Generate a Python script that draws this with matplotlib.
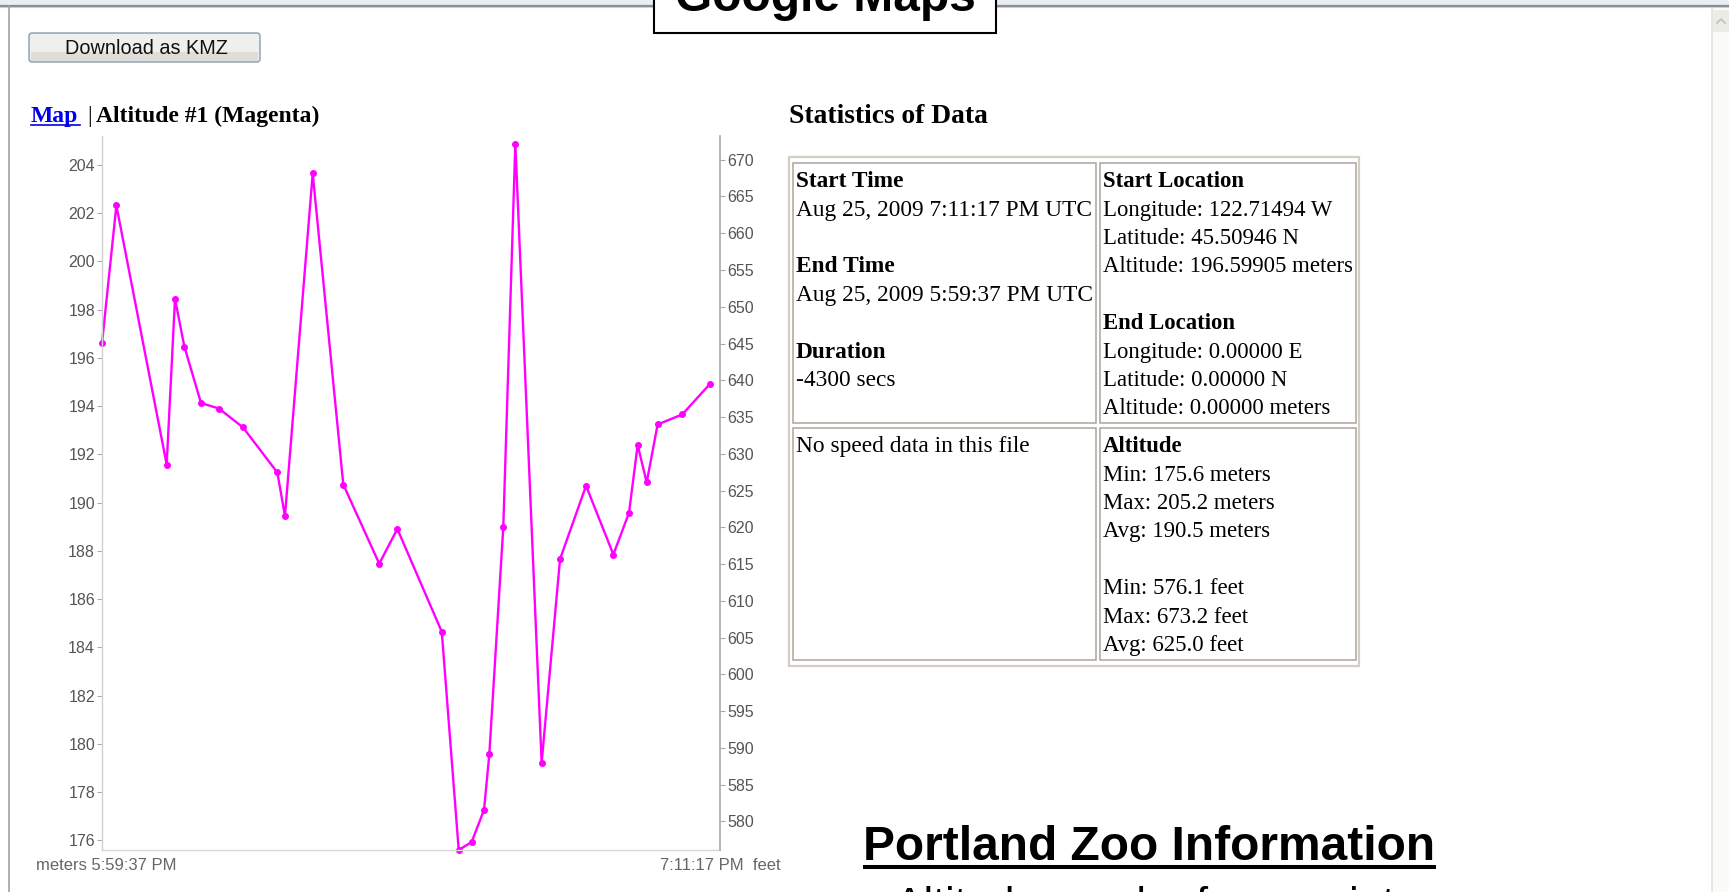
import numpy as np
import matplotlib
matplotlib.use('Agg')
import matplotlib.pyplot as plt
from matplotlib.patches import Rectangle, FancyBboxPatch

W, H = 1729, 892

# altitude track, seconds after 5:59:37 PM
times_sec = [0, 100, 450, 508, 573, 689, 814, 981, 1220, 1273, 1466, 1679, 1929, 2055,
             2364, 2482, 2572, 2658, 2695, 2792, 2876, 3059, 3187, 3368, 3558, 3667,
             3727, 3790, 3866, 4038, 4230]
alt_m = [196.60, 202.32, 191.58, 198.45, 196.47, 194.13, 193.90, 193.12, 191.25, 189.45,
         203.65, 190.75, 187.47, 188.91, 184.65, 175.60, 175.93, 177.26, 179.57, 188.97,
         204.87, 179.22, 187.66, 190.70, 187.85, 189.58, 192.39, 190.84, 193.24, 193.66,
         194.92]
duration_sec = 4300
alt_min, alt_max = 175.6, 205.2
m_to_ft = 3.28084

meter_ticks = list(range(176, 205, 2))
feet_ticks = list(range(580, 671, 5))

# statistics table text (label, bold?)
cell_time = [("Start Time", True), ("Aug 25, 2009 7:11:17 PM UTC", False), ("", False),
             ("End Time", True), ("Aug 25, 2009 5:59:37 PM UTC", False), ("", False),
             ("Duration", True), ("-4300 secs", False)]
cell_loc = [("Start Location", True), ("Longitude: 122.71494 W", False),
            ("Latitude: 45.50946 N", False), ("Altitude: 196.59905 meters", False),
            ("", False), ("End Location", True), ("Longitude: 0.00000 E", False),
            ("Latitude: 0.00000 N", False), ("Altitude: 0.00000 meters", False)]
cell_speed = [("No speed data in this file", False)]
cell_alt = [("Altitude", True), ("Min: 175.6 meters", False), ("Max: 205.2 meters", False),
            ("Avg: 190.5 meters", False), ("", False), ("Min: 576.1 feet", False),
            ("Max: 673.2 feet", False), ("Avg: 625.0 feet", False)]

fig = plt.figure(figsize=(W / 100, H / 100), dpi=100)
fig.patch.set_facecolor('white')

# page layer in pixel coordinates
pg = fig.add_axes([0, 0, 1, 1], zorder=0)
pg.set_xlim(0, W)
pg.set_ylim(H, 0)
pg.axis('off')

serif = 'Liberation Serif'
sans = 'Liberation Sans'

# browser frame
pg.add_patch(Rectangle((0, 0), W, 4.5, color='#e9edf5', lw=0))
pg.plot([0, W], [5.5, 5.5], color='#8c8c8c', lw=1.6)
pg.plot([0, W], [7.2, 7.2], color='#cfcfcf', lw=0.8)
pg.plot([9, 9], [6, H], color='#a6a29a', lw=1.2)
pg.add_patch(Rectangle((1712, 8), W - 1712, H, facecolor='#fbfbf8', edgecolor='none'))
pg.plot([1712, 1712], [8, H], color='#e4e4de', lw=1.2)
pg.add_patch(Rectangle((1713, 10), 16, 22, facecolor='#ecece7', edgecolor='none'))
pg.plot([1717, 1721, 1725], [23, 19, 23], color='#c0c0bc', lw=1.2)

# Google Maps tab
pg.add_patch(Rectangle((654, -10), 342, 43, facecolor='white', edgecolor='black', lw=1.5, zorder=3))
pg.text(825, 11, 'Google Maps', fontsize=34.5, fontweight='bold', family=sans,
        ha='center', va='baseline', zorder=4)

# button
pg.add_patch(FancyBboxPatch((29, 33), 231, 29, boxstyle='round,pad=0,rounding_size=3',
                            facecolor='#efefec', edgecolor='#8a9ab0', lw=1.0))
pg.add_patch(Rectangle((31, 52), 227, 9, facecolor='#dfddd7', edgecolor='none'))
pg.text(146, 53.5, 'Download as KMZ', fontsize=14.3, family=sans, ha='center', va='baseline',
        color='#111111')

# chart header
pg.text(31, 121.7, 'Map', fontsize=17, fontweight='bold', family=serif, color='#0000ee',
        va='baseline')
pg.plot([31, 80], [124.5, 124.5], color='#0000ee', lw=1.2)
pg.text(87, 121.7, '|', fontsize=17, family=serif, va='baseline')
pg.text(96, 121.7, 'Altitude #1 (Magenta)', fontsize=17, fontweight='bold', family=serif,
        va='baseline')

# statistics table
pg.text(789.5, 122.7, 'Statistics of Data', fontsize=19.8, fontweight='bold', family=serif,
        va='baseline')
pg.add_patch(Rectangle((789.5, 157), 570, 509, facecolor='none', edgecolor='#d2cec4', lw=1.6))
cells = [(793.5, 162.7, 1096, 423.3), (1100, 162.7, 1356, 423.3),
         (793.5, 428, 1096, 660), (1100, 428, 1356, 660)]
for x0, y0, x1, y1 in cells:
    pg.add_patch(Rectangle((x0, y0), x1 - x0, y1 - y0, facecolor='none',
                           edgecolor='#aaa69c', lw=1.1))

line_h = 28.4
for lines, x, y, fs in [(cell_time, 796, 187.3, 16.8), (cell_loc, 1103, 187.3, 16.4),
                        (cell_speed, 796, 452.3, 16.8), (cell_alt, 1103, 452.3, 16.4)]:
    for i, (txt, bold) in enumerate(lines):
        pg.text(x, y + i * line_h, txt, fontsize=fs, family=serif,
                fontweight='bold' if bold else 'normal', va='baseline')

# zoo heading
pg.text(863, 860, 'Portland Zoo Information', fontsize=34.5, fontweight='bold', family=sans,
        va='baseline')
pg.plot([863, 1436], [867, 867], color='black', lw=2.9, solid_capstyle='butt')
pg.text(895, 917, 'Altitude graph of zoo points', fontsize=31, family=sans, va='baseline')

# altitude chart
ax = fig.add_axes([102 / W, (H - 850) / H, 618 / W, 714 / H], zorder=2)
ax.set_facecolor('none')
ax.plot(times_sec, alt_m, color='#ff00ff', lw=1.7, marker='o', markersize=4, clip_on=False)
ax.set_xlim(0, duration_sec)
ax.set_ylim(alt_min, alt_max)
ax.set_xticks([])
ax.set_yticks(meter_ticks)
ax.tick_params(axis='y', direction='out', length=3.5, width=0.8, color='#aaaaaa',
               labelsize=11.5, labelcolor='#555555', pad=1.5)
for lab in ax.get_yticklabels():
    lab.set_family(sans)
for s in ['top', 'right']:
    ax.spines[s].set_visible(False)
ax.spines['left'].set_color('#d0d0d0')
ax.spines['bottom'].set_color('#d8d8d8')
ax.spines['left'].set_linewidth(1.0)
ax.spines['bottom'].set_linewidth(1.0)

ax2 = ax.twinx()
ax2.set_ylim(alt_min * m_to_ft, alt_max * m_to_ft)
ax2.set_yticks(feet_ticks)
ax2.tick_params(axis='y', direction='out', length=3.5, width=0.8, color='#aaaaaa',
                labelsize=11.5, labelcolor='#555555', pad=2)
for lab in ax2.get_yticklabels():
    lab.set_family(sans)
for s in ['top', 'left', 'bottom']:
    ax2.spines[s].set_visible(False)
ax2.spines['right'].set_color('#a8a8a8')
ax2.spines['right'].set_linewidth(1.2)

pg.text(36, 870, 'meters 5:59:37 PM', fontsize=12, family=sans, color='#666666',
        va='baseline')
pg.text(781, 870, '7:11:17 PM  feet', fontsize=12, family=sans, color='#666666',
        va='baseline', ha='right')

fig.savefig('out.png', dpi=100)
